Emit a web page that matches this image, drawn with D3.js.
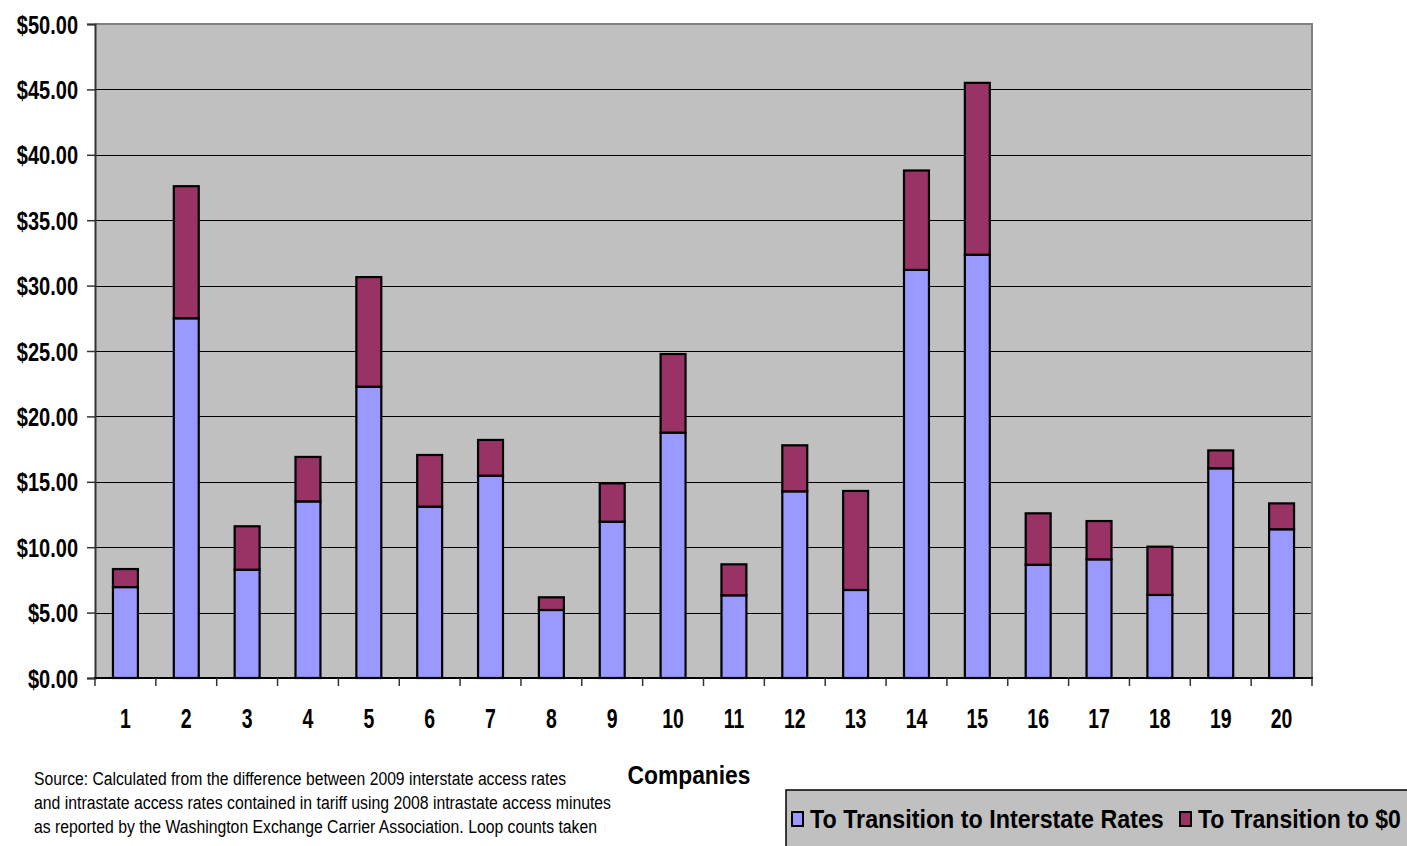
<!DOCTYPE html>
<html>
<head>
<meta charset="utf-8">
<script src="https://cdn.jsdelivr.net/npm/d3@7"></script>
<style>
  html, body { margin: 0; padding: 0; background: #fff; }
  svg { display: block; }
  text { font-family: "Liberation Sans", Arial, sans-serif; }
</style>
</head>
<body>
<svg id="chart" width="1407" height="846"></svg>
<script>
const companies = ["1","2","3","4","5","6","7","8","9","10","11","12","13","14","15","16","17","18","19","20"];
const interstate = [6.95, 27.5, 8.28, 13.5, 22.27, 13.1, 15.47, 5.2, 11.95, 18.76, 6.32, 14.27, 6.73, 31.2, 32.36, 8.66, 9.07, 6.35, 16.03, 11.37];
const toZero = [1.38, 10.1, 3.32, 3.4, 8.38, 3.95, 2.73, 0.97, 2.93, 6.01, 2.37, 3.52, 7.57, 7.6, 13.14, 3.93, 2.93, 3.69, 1.37, 1.98];
const seriesNames = ["To Transition to Interstate Rates", "To Transition to $0"];
const colors = ["#9999FF", "#993366"];
const yTicks = [0, 5, 10, 15, 20, 25, 30, 35, 40, 45, 50];
const xTitle = "Companies";
const sourceLines = [
  "Source:  Calculated from the difference between 2009 interstate access rates",
  "and intrastate access rates contained in tariff using 2008 intrastate access minutes",
  "as reported by the Washington Exchange Carrier Association.  Loop counts taken"
];

const svg = d3.select("#chart");
const L = 95, R = 1312, T = 24, B = 678;

function condense(sel, factor) {
  sel.each(function () {
    const w = this.getComputedTextLength();
    d3.select(this).attr("textLength", w * factor).attr("lengthAdjust", "spacingAndGlyphs");
  });
}

const x = d3.scaleBand().domain(companies).range([L, R]).padding(0);
const y = d3.scaleLinear().domain([0, 50]).range([B, T]);

svg.append("rect").attr("x", L).attr("y", T).attr("width", R - L).attr("height", B - T)
  .attr("fill", "#C0C0C0");

svg.append("g").selectAll("line").data(yTicks.filter(d => d > 0 && d < 50)).join("line")
  .attr("x1", L).attr("x2", R)
  .attr("y1", d => Math.round(y(d)) + 0.5).attr("y2", d => Math.round(y(d)) + 0.5)
  .attr("stroke", "#000").attr("stroke-width", 1.2);

svg.append("line").attr("x1", L).attr("x2", R + 1).attr("y1", T).attr("y2", T)
  .attr("stroke", "#808080").attr("stroke-width", 2);
svg.append("line").attr("x1", R).attr("x2", R).attr("y1", T).attr("y2", B)
  .attr("stroke", "#808080").attr("stroke-width", 2);

const data = companies.map((c, i) => ({ c, a: interstate[i], b: toZero[i] }));
const stack = d3.stack().keys(["a", "b"])(data);
const bw = x.bandwidth() * 0.41;

svg.append("g").selectAll("g").data(stack).join("g")
  .attr("fill", (d, i) => colors[i])
  .selectAll("rect").data(d => d).join("rect")
  .attr("x", d => x(d.data.c) + (x.bandwidth() - bw) / 2)
  .attr("width", bw)
  .attr("y", d => y(d[1]))
  .attr("height", d => y(d[0]) - y(d[1]))
  .attr("stroke", "#000").attr("stroke-width", 2.2);

const yAxis = d3.axisLeft(y).tickValues(yTicks).tickSize(8)
  .tickFormat(d => "$" + d3.format(".2f")(d));
const gy = svg.append("g").attr("transform", `translate(${L},0)`).call(yAxis);
gy.select(".domain").attr("stroke", "#333").attr("stroke-width", 2);
gy.selectAll(".tick line").attr("stroke", "#333").attr("stroke-width", 1.5);
const yt = gy.selectAll(".tick text")
  .attr("x", -17).attr("dy", "0.36em")
  .attr("font-size", 25).attr("font-weight", "bold").attr("fill", "#000")
  .style("font-family", '"Liberation Sans", Arial, sans-serif');
condense(yt, 0.8);

const gx = svg.append("g").attr("transform", `translate(0,${B})`);
gx.append("line").attr("x1", L - 1).attr("x2", R + 1).attr("y1", 0).attr("y2", 0)
  .attr("stroke", "#000").attr("stroke-width", 2);
const bounds = companies.map(c => x(c)).concat([R]);
gx.selectAll("line.tk").data(bounds).join("line").attr("class", "tk")
  .attr("x1", d => d).attr("x2", d => d).attr("y1", 0).attr("y2", 8)
  .attr("stroke", "#333").attr("stroke-width", 1.5);
const xt = gx.selectAll("text").data(companies).join("text")
  .attr("x", d => x(d) + x.bandwidth() / 2)
  .attr("y", 50)
  .attr("text-anchor", "middle")
  .attr("font-size", 27).attr("font-weight", "bold").attr("fill", "#000")
  .text(d => d);
condense(xt, 0.72);

svg.append("text").attr("x", 689).attr("y", 784).attr("text-anchor", "middle")
  .attr("font-size", 25).attr("font-weight", "bold").attr("fill", "#000")
  .attr("textLength", 123).attr("lengthAdjust", "spacingAndGlyphs")
  .text(xTitle);

const srcEnds = [566, 611, 597];
svg.append("g").selectAll("text").data(sourceLines).join("text")
  .attr("x", 34).attr("y", (d, i) => 785 + i * 24)
  .attr("font-size", 18).attr("fill", "#000")
  .attr("textLength", (d, i) => srcEnds[i] - 34).attr("lengthAdjust", "spacingAndGlyphs")
  .text(d => d);

const lg = svg.append("g");
lg.append("rect").attr("x", 786).attr("y", 790).attr("width", 640).attr("height", 80)
  .attr("fill", "#C0C0C0").attr("stroke", "#000").attr("stroke-width", 1.5);
const legX = [792, 1180];
const legEnds = [1164, 1401];
seriesNames.forEach((name, i) => {
  lg.append("rect").attr("x", legX[i]).attr("y", 812).attr("width", 11).attr("height", 14)
    .attr("fill", colors[i]).attr("stroke", "#000").attr("stroke-width", 2);
  const tx = legX[i] + 18;
  const t = lg.append("text").attr("x", 0).attr("y", 0)
    .attr("font-size", 25).attr("font-weight", "bold").attr("fill", "#000")
    .text(name);
  const w = t.node().getComputedTextLength();
  const s = (legEnds[i] - tx) / w;
  t.attr("transform", `translate(${tx},828) scale(${s},1)`);
});
</script>
</body>
</html>
